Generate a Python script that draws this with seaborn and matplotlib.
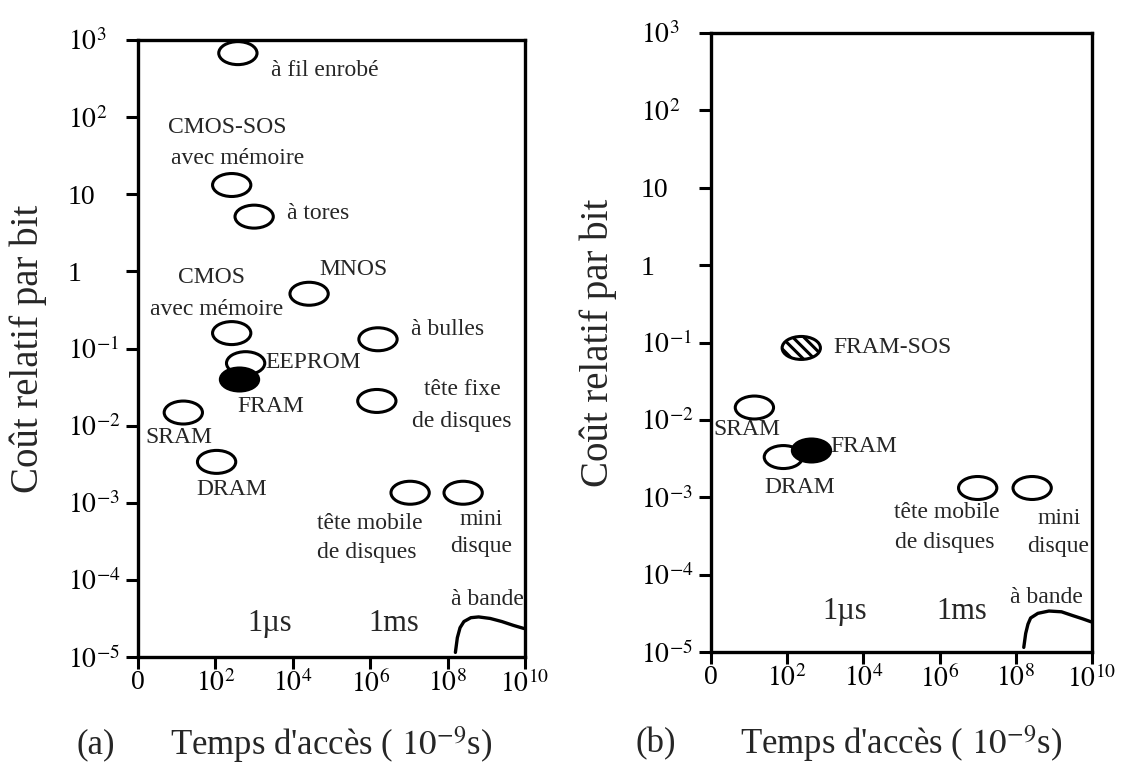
import numpy as np
import pandas as pd
import matplotlib
matplotlib.use("Agg")
import matplotlib.pyplot as plt
import seaborn as sns
from matplotlib.path import Path
from matplotlib.transforms import Affine2D

# values, as log10 exponents
# (x: access time in ns, y: relative cost per bit)

# panel (a)
a_tech = ["fil", "cmos_sos", "tores", "mnos", "cmos", "bulles", "eeprom",
          "fixe", "sram", "dram", "mobile", "mini", "fram"]
a_time = [2.58, 2.42, 3.0, 4.42, 2.42, 6.2, 2.78, 6.17, 1.17, 2.03, 7.03, 8.4, 2.6]
a_cost = [2.83, 1.12, 0.71, -0.29, -0.8, -0.88, -1.19, -1.68, -1.83, -2.47, -2.87, -2.87, -1.39]
a_kind = ["open"] * 12 + ["filled"]

a_text = ["à fil enrobé", "CMOS-SOS", "avec mémoire", "à tores", "MNOS", "CMOS",
          "avec mémoire", "à bulles", "EEPROM", "tête fixe", "de disques", "FRAM",
          "SRAM", "DRAM", "tête mobile", "de disques", "mini", "disque", "à bande"]
a_text_x = [3.44, 2.31, 2.58, 3.86, 5.56, 1.89, 2.03, 7.06, 3.28, 8.39, 8.36, 3.42,
            1.06, 2.42, 6.0, 5.92, 8.86, 8.86, 9.03]
a_text_y = [2.61, 1.86, 1.47, 0.75, 0.03, -0.08, -0.49, -0.75, -1.18, -1.53, -1.94,
            -1.75, -2.16, -2.83, -3.27, -3.65, -3.22, -3.57, -4.25]
a_text_ha = ["left", "center", "center", "left", "center", "center", "center", "left",
             "left", "center", "center", "center", "center", "center", "center",
             "center", "center", "center", "center"]

a_tape_x = [8.2, 8.25, 8.32, 8.42, 8.6, 8.8, 9.1, 9.4, 9.7, 9.97]
a_tape_y = [-4.94, -4.75, -4.62, -4.54, -4.49, -4.48, -4.50, -4.54, -4.59, -4.63]
a_units_x = [3.4, 6.6]
a_units_y = [-4.56, -4.56]

# panel (b)
b_tech = ["fram_sos", "sram", "dram", "mobile", "mini", "fram"]
b_time = [2.37, 1.14, 1.9, 7.0, 8.43, 2.63]
b_cost = [-1.07, -1.84, -2.48, -2.88, -2.88, -2.39]
b_kind = ["hatched", "open", "open", "open", "open", "filled"]

b_text = ["FRAM-SOS", "SRAM", "FRAM", "DRAM", "tête mobile", "de disques",
          "mini", "disque", "à bande"]
b_text_x = [3.2, 0.94, 3.14, 2.34, 6.2, 6.14, 9.13, 9.1, 8.8]
b_text_y = [-1.07, -2.13, -2.34, -2.87, -3.2, -3.59, -3.27, -3.64, -4.29]
b_text_ha = ["left", "center", "left", "center", "center", "center", "center",
             "center", "center"]

b_tape_x = [8.21, 8.26, 8.32, 8.39, 8.58, 8.87, 9.2, 9.5, 9.75, 9.98]
b_tape_y = [-4.94, -4.76, -4.64, -4.56, -4.50, -4.47, -4.48, -4.53, -4.57, -4.61]
b_units_x = [3.5, 6.57]
b_units_y = [-4.48, -4.48]

units = ["1µs", "1ms"]

x_ticks = [0, 2, 4, 6, 8, 10]
x_ticklabels = ["0", "$10^{2}$", "$10^{4}$", "$10^{6}$", "$10^{8}$", "$10^{10}$"]
y_ticks = [3, 2, 1, 0, -1, -2, -3, -4, -5]
y_ticklabels = ["$10^{3}$", "$10^{2}$", "10", "1", "$10^{-1}$", "$10^{-2}$",
                "$10^{-3}$", "$10^{-4}$", "$10^{-5}$"]

sns.set_theme(style="ticks")
plt.rcParams["font.family"] = ["Liberation Serif", "DejaVu Serif"]
plt.rcParams["mathtext.fontset"] = "stix"
plt.rcParams["hatch.linewidth"] = 2.2

# flat ellipse used as marker
ELLIPSE = Path.unit_circle().transformed(Affine2D().scale(1.0, 0.6))


def draw_panel(ax, tech, time, cost, kind, text, tx, ty, tha,
               tape_x, tape_y, ux, uy, tag, ylab_x, tag_x, lab_y):
    df = pd.DataFrame({
        "tech": tech,
        "time": 10 ** np.array(time, dtype=float),
        "cost": 10 ** np.array(cost, dtype=float),
        "kind": kind,
    })
    ax.set_xscale("log")
    ax.set_yscale("log")

    for k in ["open", "hatched", "filled"]:
        sub = df[df["kind"] == k]
        if sub.empty:
            continue
        fc = "black" if k == "filled" else ("white" if k == "hatched" else "none")
        sns.scatterplot(data=sub, x="time", y="cost", ax=ax, marker=ELLIPSE,
                        s=760, facecolor=fc, edgecolor="black", linewidth=2.2,
                        hatch="\\\\\\" if k == "hatched" else None,
                        legend=False, zorder=3)

    tape = pd.DataFrame({"time": 10 ** np.array(tape_x), "cost": 10 ** np.array(tape_y)})
    sns.lineplot(data=tape, x="time", y="cost", ax=ax, color="black",
                 linewidth=2.4, sort=False, estimator=None)

    for s, x, y, ha in zip(text, tx, ty, tha):
        ax.text(10 ** x, 10 ** y, s, ha=ha, va="center", fontsize=17, zorder=4)
    for s, x, y in zip(units, ux, uy):
        ax.text(10 ** x, 10 ** y, s, ha="center", va="center", fontsize=22)

    ax.set_xlim(1, 1e10)
    ax.set_ylim(1e-5, 1e3)
    ax.set_xticks([10.0 ** t for t in x_ticks])
    ax.set_xticklabels(x_ticklabels)
    ax.set_yticks([10.0 ** t for t in y_ticks])
    ax.set_yticklabels(y_ticklabels)
    ax.minorticks_off()
    ax.tick_params(direction="out", length=8.5, width=2.2, labelsize=20,
                   color="black", labelcolor="black")
    ax.tick_params(axis="x", pad=1)
    ax.tick_params(axis="y", pad=42)
    for lab in ax.get_yticklabels():
        lab.set_horizontalalignment("left")
    for sp in ax.spines.values():
        sp.set_visible(True)
        sp.set_linewidth(2.4)
        sp.set_color("black")

    ax.set_xlabel("Temps d'accès ( $10^{-9}$s)", fontsize=25, va="center")
    ax.xaxis.set_label_coords(0.5, lab_y)
    ax.set_ylabel("Coût relatif par bit", fontsize=28, va="center")
    ax.yaxis.set_label_coords(ylab_x, 0.5)
    ax.text(tag_x, lab_y, tag, transform=ax.transAxes, fontsize=25,
            ha="center", va="center")


fig = plt.figure(figsize=(11.37, 7.68), dpi=100)
ax_a = fig.add_axes([0.1214, 0.1445, 0.3404, 0.8034])
ax_b = fig.add_axes([0.6253, 0.151, 0.3351, 0.806])

draw_panel(ax_a, a_tech, a_time, a_cost, a_kind, a_text, a_text_x, a_text_y,
           a_text_ha, a_tape_x, a_tape_y, a_units_x, a_units_y, "(a)", -0.284, -0.108, -0.142)
draw_panel(ax_b, b_tech, b_time, b_cost, b_kind, b_text, b_text_x, b_text_y,
           b_text_ha, b_tape_x, b_tape_y, b_units_x, b_units_y, "(b)", -0.297, -0.144, -0.148)

fig.savefig("out.png", dpi=100, facecolor="white")
